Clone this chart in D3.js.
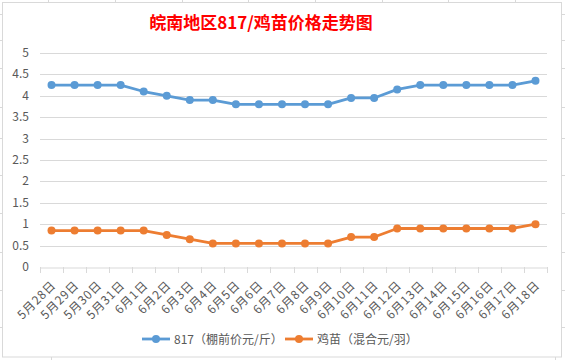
<!DOCTYPE html>
<html><head><meta charset="utf-8">
<script src="https://cdn.jsdelivr.net/npm/d3@7/dist/d3.min.js"></script>
<style>body{margin:0;background:#fff}svg{display:block}</style>
</head><body>
<svg id="c" width="565" height="360"></svg>
<script>
const categories = ["5月28日","5月29日","5月30日","5月31日","6月1日","6月2日","6月3日","6月4日","6月5日","6月6日","6月7日","6月8日","6月9日","6月10日","6月11日","6月12日","6月13日","6月14日","6月15日","6月16日","6月17日","6月18日"];
const series817 = [4.25,4.25,4.25,4.25,4.1,4.0,3.9,3.9,3.8,3.8,3.8,3.8,3.8,3.95,3.95,4.15,4.25,4.25,4.25,4.25,4.25,4.35];
const seriesChick = [0.85,0.85,0.85,0.85,0.85,0.75,0.65,0.55,0.55,0.55,0.55,0.55,0.55,0.7,0.7,0.9,0.9,0.9,0.9,0.9,0.9,1.0];
const yTicks = [0,0.5,1,1.5,2,2.5,3,3.5,4,4.5,5];
const seriesNames = ["817（棚前价元/斤）","鸡苗（混合元/羽）"];
const colors = ["#5b9bd5","#ed7d31"];
const title = "皖南地区817/鸡苗价格走势图";

const svg = d3.select("#c");
const font = "'Microsoft YaHei','Noto Sans CJK SC','DejaVu Sans',sans-serif";
const grey = "#d9d9d9";

// spreadsheet background marks
[48,115,182,248,315,382,448,515].forEach(x=>svg.append("line").attr("x1",x+0.5).attr("x2",x+0.5).attr("y1",0).attr("y2",3).attr("stroke",grey));
[51,555].forEach(x=>svg.append("line").attr("x1",x+0.5).attr("x2",x+0.5).attr("y1",357).attr("y2",360).attr("stroke",grey));
[14,40,68,107,138,175,213,252,290,327].forEach(y=>{
  svg.append("line").attr("x1",0).attr("x2",3).attr("y1",y+0.5).attr("y2",y+0.5).attr("stroke",grey);
  svg.append("line").attr("x1",562).attr("x2",565).attr("y1",y+0.5).attr("y2",y+0.5).attr("stroke",grey);
});
// chart frame
svg.append("rect").attr("x",2.5).attr("y",2.5).attr("width",559).attr("height",354.5).attr("fill","#fff").attr("stroke",grey);

// title
svg.append("text").attr("x",261).attr("y",29).attr("text-anchor","middle")
  .attr("font-family",font).attr("font-size",17).attr("font-weight","bold").attr("fill","#ff0000").text(title);

const x = d3.scaleBand().domain(categories).range([40,547]);
const y = d3.scaleLinear().domain([0,5]).range([267,53]);

// gridlines
svg.append("g").selectAll("line").data(yTicks.filter(d=>d>0)).join("line")
  .attr("x1",40).attr("x2",547).attr("y1",d=>Math.round(y(d))+0.5).attr("y2",d=>Math.round(y(d))+0.5)
  .attr("stroke",grey).attr("stroke-width",1);

// y labels
svg.append("g").selectAll("text").data(yTicks).join("text")
  .attr("x",29).attr("y",d=>y(d)+4).attr("text-anchor","end")
  .attr("font-family",font).attr("font-size",12).attr("fill","#595959")
  .text(d=>d);

// x axis
const xa = svg.append("g").attr("transform","translate(0,267.5)")
  .call(d3.axisBottom(x).tickSize(0).tickFormat(""));
xa.select(".domain").attr("stroke",grey);
const bounds = categories.map(c=>x(c)).concat([x.range()[1]]);
svg.append("g").selectAll("line").data(bounds).join("line")
  .attr("x1",d=>Math.round(d)+0.5).attr("x2",d=>Math.round(d)+0.5).attr("y1",267).attr("y2",273)
  .attr("stroke",grey);
svg.append("g").selectAll("text").data(categories).join("text")
  .attr("transform",d=>`translate(${x(d)+x.bandwidth()/2+5},${286}) rotate(-45)`)
  .attr("text-anchor","end")
  .attr("font-family",font).attr("font-size",12).attr("letter-spacing","0.8px").attr("fill","#595959")
  .text(d=>d);

// lines
[series817,seriesChick].forEach((s,i)=>{
  const line = d3.line().x((d,j)=>x(categories[j])+x.bandwidth()/2).y(d=>y(d));
  svg.append("path").datum(s).attr("d",line).attr("fill","none")
    .attr("stroke",colors[i]).attr("stroke-width",2.8).attr("stroke-linejoin","round");
  svg.append("g").selectAll("circle").data(s).join("circle")
    .attr("cx",(d,j)=>x(categories[j])+x.bandwidth()/2).attr("cy",d=>y(d)).attr("r",4)
    .attr("fill",colors[i]);
});

// legend
const lg = [{x:142,tx:174},{x:285,tx:317}];
seriesNames.forEach((n,i)=>{
  const g = svg.append("g");
  g.append("line").attr("x1",lg[i].x).attr("x2",lg[i].x+28).attr("y1",339).attr("y2",339)
    .attr("stroke",colors[i]).attr("stroke-width",2.8);
  g.append("circle").attr("cx",lg[i].x+14).attr("cy",339).attr("r",4).attr("fill",colors[i]);
  g.append("text").attr("x",lg[i].tx).attr("y",343.5)
    .attr("font-family",font).attr("font-size",12).attr("fill","#595959").text(n);
});
</script>
</body></html>
